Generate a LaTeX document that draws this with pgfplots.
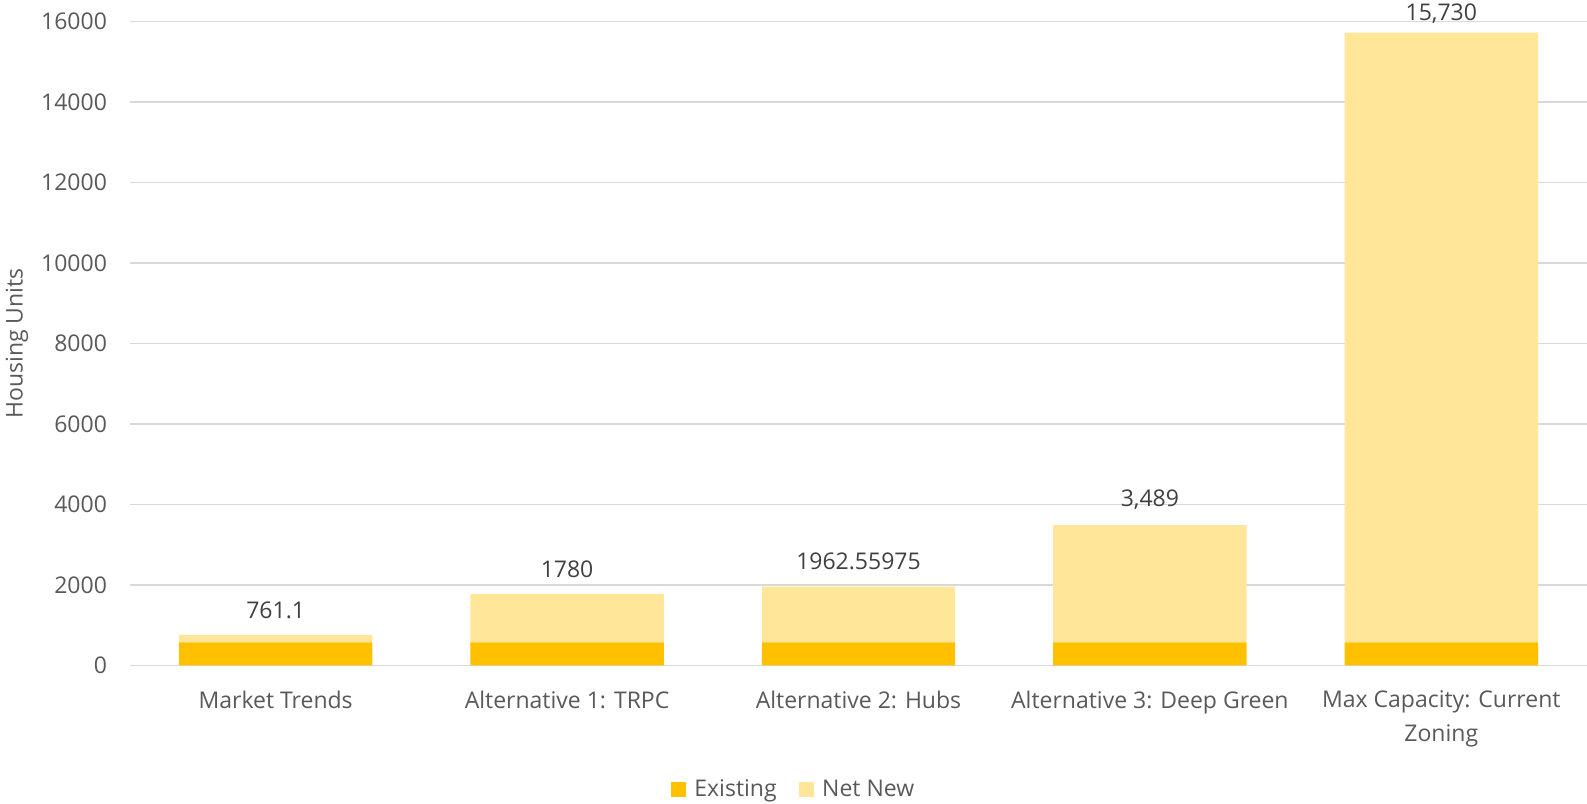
\documentclass[border=0pt]{standalone}
\usepackage{fontspec}
\setmainfont{Open Sans}
\usepackage{pgfplots}
\pgfplotsset{compat=1.18}
\usepackage{pgfplotstable}
\definecolor{existc}{HTML}{FFC000}
\definecolor{newc}{HTML}{FFE699}
\definecolor{gridc}{HTML}{D9D9D9}
\definecolor{txt}{HTML}{595959}
\definecolor{lbl}{HTML}{404040}

\pgfplotstableread{
x existing netnew total label
0 575 186.1 761.1 761.1
1 575 1205 1780 1780
2 575 1387.55975 1962.55975 1962.55975
3 575 2914 3489 3,489
4 575 15155 15730 15,730
}\datatable

\begin{document}
\begin{tikzpicture}
\useasboundingbox (-65pt,-69.15pt) rectangle (728.75pt,332.85pt);
\begin{axis}[
  at={(0pt,0pt)}, anchor=south west,
  scale only axis,
  width=728.75pt, height=322pt,
  xmin=-0.5, xmax=4.5, ymin=0, ymax=16000,
  ybar stacked, bar width=96.75pt,
  axis line style={draw=none},
  major tick length=0pt,
  ymajorgrids, grid style={gridc, line width=0.7pt},
  ytick={0,2000,...,16000},
  scaled y ticks=false,
  /pgf/number format/assume math mode=true,
  yticklabel style={/pgf/number format/1000 sep={}, font=\fontsize{11.5}{13.8}\selectfont, text=txt, xshift=-8pt},
  xtick={0,1,2,3,4},
  xticklabels={Market Trends, Alternative 1: TRPC, Alternative 2: Hubs, Alternative 3: Deep Green, {Max Capacity: Current\\Zoning}},
  xticklabel style={align=center, font=\fontsize{11.5}{17.2}\selectfont, text=txt, yshift=-9pt},
  ylabel={Housing Units},
  every axis y label/.style={at={(rel axis cs:0,0.5)}, rotate=90, anchor=center, yshift=56.5pt,
    font=\fontsize{11.5}{13.8}\selectfont, text=txt},
  legend columns=2,
  legend style={at={(0.4563,-0.1926)}, anchor=center, draw=none, fill=none,
    font=\fontsize{11.5}{13.8}\selectfont, text=txt,
    /tikz/every odd column/.append style={column sep=2pt},
    /tikz/every even column/.append style={column sep=9.3pt}},
  legend image code/.code={\fill[#1] (0pt,-3.75pt) rectangle (7.5pt,3.75pt);},
]
\addplot[fill=existc, draw=none] table[x=x, y=existing] {\datatable};
\addlegendentry{Existing}
\addplot[fill=newc, draw=none] table[x=x, y=netnew] {\datatable};
\addlegendentry{Net New}
\end{axis}
\begin{axis}[
  at={(0pt,0pt)}, anchor=south west,
  scale only axis,
  width=728.75pt, height=322pt,
  xmin=-0.5, xmax=4.5, ymin=0, ymax=16000,
  hide axis, clip=false,
]
\addplot[draw=none, mark=none,
  visualization depends on={x \as \rx},
  nodes near coords,
  point meta=explicit symbolic,
  nodes near coords style={anchor=center, font=\fontsize{11.5}{13.8}\selectfont, text=lbl,
    yshift={12.5-3*(\rx>3.5)}}]
  table[x=x, y=total, meta=label] {\datatable};
\end{axis}
\end{tikzpicture}
\end{document}
